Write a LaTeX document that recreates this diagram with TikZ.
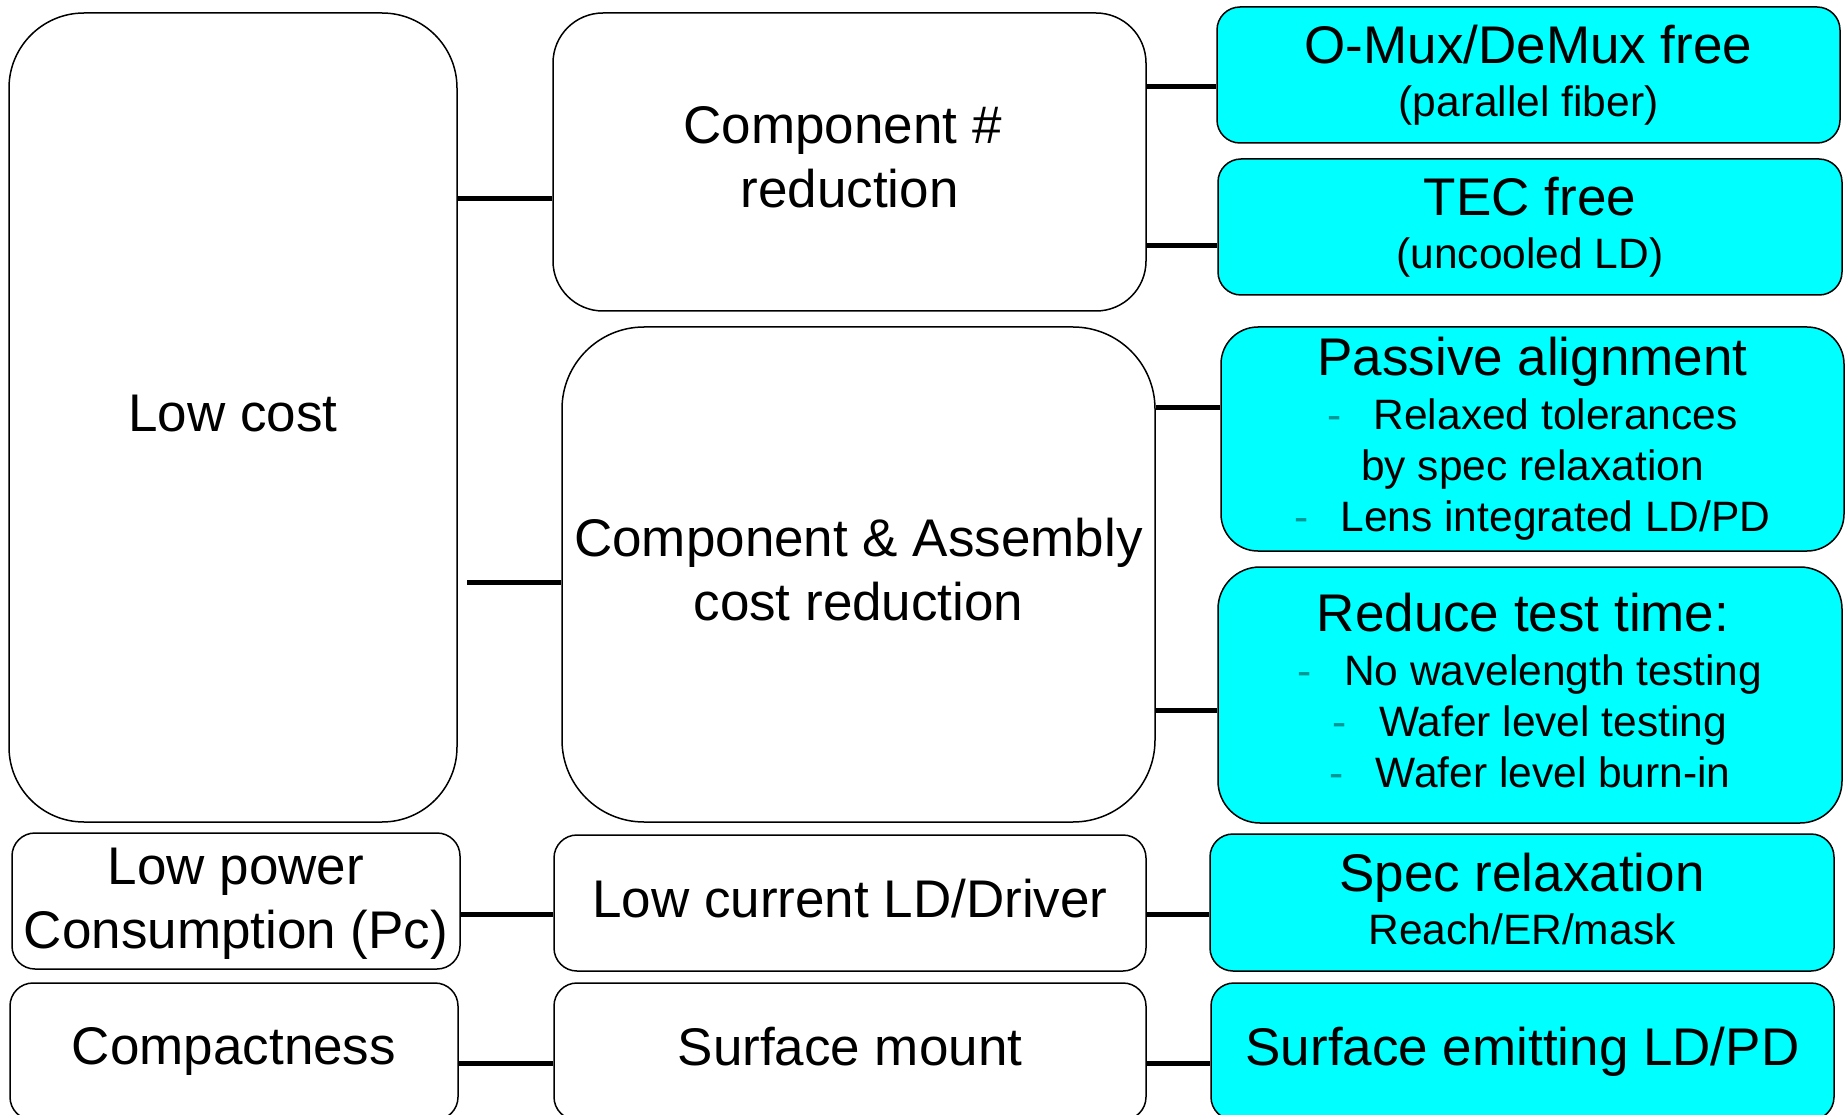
\documentclass[tikz,border=0pt]{standalone}
\usepackage{fontspec}
\setmainfont{Liberation Sans}
\definecolor{boxcyan}{RGB}{0,255,255}
\definecolor{dashteal}{RGB}{0,150,150}
\newcommand\bigtext{\fontsize{53pt}{63.6pt}\selectfont}
\newcommand\smalltext{\fontsize{42.5pt}{51pt}\selectfont}
\newcommand\itemdash{\textcolor{dashteal}{-}\hspace{32pt}}
\tikzset{
  box/.style={draw=black, line width=1.5pt, fill=white, inner sep=0pt},
  goal/.style={box},
  tech/.style={box, fill=boxcyan},
  bigtxt/.style={align=center, inner sep=0pt, font=\bigtext},
  smalltxt/.style={align=center, inner sep=0pt, font=\smalltext},
  link/.style={line width=5pt, black},
}
\begin{document}
\begin{tikzpicture}[x=1pt, y=-1pt]
\useasboundingbox (0,0) rectangle (1845,1115);
\clip (0,0) rectangle (1845,1115);

% first column: goals
\node[goal, minimum width=448pt, minimum height=809pt, rounded corners=75pt] (lowcost) at (233,417.5) {};
\node[bigtxt] (lowcost-t) at ([yshift=3.5pt]lowcost.center) {Low cost};
\node[goal, minimum width=448pt, minimum height=136pt, rounded corners=23pt] (lowpower) at (236,901) {};
\node[bigtxt] (lowpower-t) at ([yshift=-2.5pt]lowpower.center) {Low power\\Consumption (Pc)};
\node[goal, minimum width=448pt, minimum height=137pt, rounded corners=23pt] (compact) at (234,1051.5) {};
\node[bigtxt] (compact-t) at (compact.center) {Compactness};

% second column: approaches
\node[goal, minimum width=593pt, minimum height=298pt, rounded corners=50pt] (compnum) at (849.5,162) {};
\node[bigtxt] (compnum-t) at ([yshift=4.7pt]compnum.center) {Component \#\kern14pt\\reduction};
\node[goal, minimum width=593pt, minimum height=495pt, rounded corners=82pt] (compasm) at (858.5,574.5) {};
\node[bigtxt] (compasm-t) at ([yshift=4.7pt]compasm.center) {Component \& Assembly\\cost reduction};
\node[goal, minimum width=592pt, minimum height=136pt, rounded corners=23pt] (lowcur) at (850,903) {};
\node[bigtxt] (lowcur-t) at ([yshift=4.7pt]lowcur.center) {Low current LD/Driver};
\node[goal, minimum width=592pt, minimum height=137pt, rounded corners=23pt] (surfmount) at (850,1051.5) {};
\node[bigtxt] (surfmount-t) at ([yshift=4.7pt]surfmount.center) {Surface mount};

% third column: enabling technologies
\node[tech, minimum width=623pt, minimum height=136pt, rounded corners=23pt] (omux) at (1528.5,75) {};
\node[smalltxt] (omux-t) at (omux.center) {{\bigtext O-Mux/DeMux free}\\[2pt](parallel fiber)};
\node[tech, minimum width=624pt, minimum height=136pt, rounded corners=23pt] (tec) at (1530,227) {};
\node[smalltxt] (tec-t) at (tec.center) {{\bigtext TEC free}\\[2pt](uncooled LD)};
\node[tech, minimum width=623pt, minimum height=224pt, rounded corners=37pt] (passive) at (1532.5,439) {};
\node[smalltxt] (passive-t) at (passive.center)
  {{\bigtext Passive alignment}\\[3pt]\itemdash Relaxed tolerances\\by spec relaxation\\\itemdash Lens integrated LD/PD};
\node[tech, minimum width=624pt, minimum height=256pt, rounded corners=42pt] (reduce) at (1530,695) {};
\node[smalltxt] (reduce-t) at ([yshift=4.5pt]reduce.center)
  {{\bigtext Reduce test time:\kern14pt}\\[3pt]\itemdash No wavelength testing\\\itemdash Wafer level testing\\\itemdash Wafer level burn-in};
\node[tech, minimum width=624pt, minimum height=137pt, rounded corners=23pt] (spec) at (1522,902.5) {};
\node[smalltxt] (spec-t) at ([yshift=4pt]spec.center) {{\bigtext Spec relaxation}\\[2pt]Reach/ER/mask};
\node[tech, minimum width=623pt, minimum height=137pt, rounded corners=23pt] (surfemit) at (1522.5,1051.5) {};
\node[bigtxt] (surfemit-t) at (surfemit.center) {Surface emitting LD/PD};

% connector levels
\coordinate (yA) at (0,199);
\coordinate (yB) at (467,582);
\coordinate (yC) at (0,87);
\coordinate (yD) at (0,246);
\coordinate (yE) at (0,407);
\coordinate (yF) at (0,710);
\coordinate (yG) at (0,914);
\coordinate (yH) at (0,1063);

% connectors
\draw[link] (lowcost.east |- yA) -- (compnum.west |- yA);
\draw[link] (yB) -- (compasm.west |- yB);
\draw[link] (compnum.east |- yC) -- (omux.west |- yC);
\draw[link] (compnum.east |- yD) -- (tec.west |- yD);
\draw[link] (compasm.east |- yE) -- (passive.west |- yE);
\draw[link] (compasm.east |- yF) -- (reduce.west |- yF);
\draw[link] (lowpower.east |- yG) -- (lowcur.west |- yG);
\draw[link] (lowcur.east |- yG) -- (spec.west |- yG);
\draw[link] (compact.east |- yH) -- (surfmount.west |- yH);
\draw[link] (surfmount.east |- yH) -- (surfemit.west |- yH);
\end{tikzpicture}
\end{document}
